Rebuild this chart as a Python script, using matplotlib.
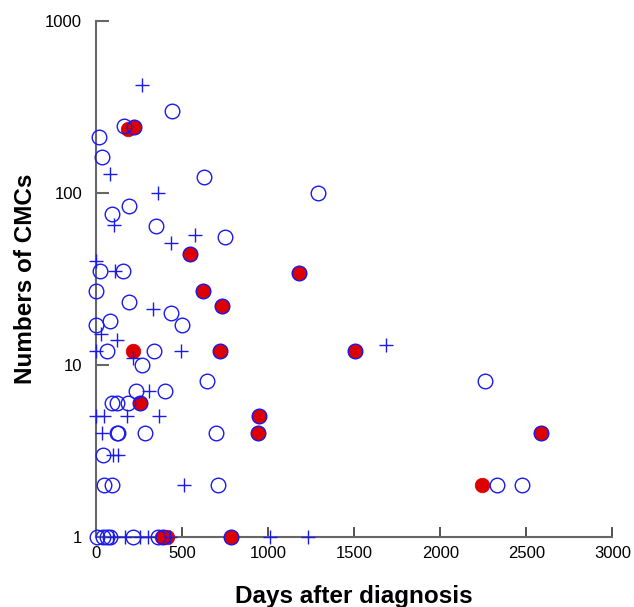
import matplotlib
matplotlib.use("Agg")
import matplotlib.pyplot as plt
from matplotlib.ticker import FixedLocator, FixedFormatter, NullLocator

plt.rcParams['font.family'] = ['Liberation Sans', 'DejaVu Sans']

# open circles (days, number of CMCs)
circ_x = [443, 160, 220, 17, 37, 627, 192, 91, 349, 748, 1290,
          546, 23, 159, 0, 623, 1180, 192, 434, 730, 501, 0, 81,
          62, 339, 720, 1505, 269, 643, 2262, 232, 401,
          91, 120, 188, 256, 949, 120, 125, 285, 697, 943, 2586, 43,
          46, 93, 711, 2332, 2475,
          4, 43, 62, 81, 217, 362, 391, 784]
circ_y = [300, 245, 240, 210, 162, 123, 84, 75, 64, 55, 100,
          44, 35, 35, 27, 27, 34, 23, 20, 22, 17, 17, 18,
          12, 12, 12, 12, 10, 8, 8, 7, 7,
          6, 6, 6, 6, 5, 4, 4, 4, 4, 4, 4, 3,
          2, 2, 2, 2, 2,
          1, 1, 1, 1, 1, 1, 1, 1]

# crosses
plus_x = [270, 81, 358, 103, 575, 434, 0, 110, 333, 30, 124, 0, 217, 496, 1685,
          310, 0, 48, 178, 366, 35, 101, 130, 511,
          100, 168, 255, 304, 430, 1010, 1230]
plus_y = [425, 128, 100, 65, 57, 51, 40, 35, 21, 15, 14, 12, 11, 12, 13,
          7, 5, 5, 5, 5, 4, 3, 3, 2,
          1, 1, 1, 1, 1, 1, 1]

# filled red points
red_x = [188, 220, 546, 623, 730, 720, 1180, 1505, 217, 256, 949, 943, 2586, 2241, 381, 410, 784]
red_y = [235, 240, 44, 27, 22, 12, 34, 12, 12, 6, 5, 4, 4, 2, 1, 1, 1]

fig = plt.figure(figsize=(6.34, 6.07), dpi=100)
ax = fig.add_axes([0.1514, 0.1158, 0.8146, 0.8501])

blue = '#1a1aee'
ax.plot(red_x, red_y, 'o', ms=10.5, mfc='#dd0000', mec='#dd0000', mew=0.5,
        ls='none', clip_on=False, zorder=3)
ax.plot(circ_x, circ_y, 'o', ms=10.5, mfc='none', mec=blue, mew=1.0,
        ls='none', clip_on=False, zorder=4)
ax.plot(plus_x, plus_y, '+', ms=10.5, mec=blue, mew=1.0,
        ls='none', clip_on=False, zorder=4)

ax.set_yscale('log')
ax.set_xlim(0, 3000)
ax.set_ylim(1, 1000)
ax.yaxis.set_major_locator(FixedLocator([1, 10, 100, 1000]))
ax.yaxis.set_major_formatter(FixedFormatter(['1', '10', '100', '1000']))
ax.yaxis.set_minor_locator(NullLocator())
ax.set_xticks([0, 500, 1000, 1500, 2000, 2500, 3000])

for s in ['top', 'right']:
    ax.spines[s].set_visible(False)
for s in ['left', 'bottom']:
    ax.spines[s].set_color('#666666')
    ax.spines[s].set_linewidth(1.5)
ax.tick_params(axis='y', direction='in', length=9, width=1.5, color='#666666',
               labelsize=12, pad=10)
ax.tick_params(axis='x', direction='in', length=7, width=1.2, color='#333333',
               labelsize=12, pad=7)

ax.set_xlabel('Days after diagnosis', fontsize=17.5, fontweight='bold', labelpad=17)
ax.set_ylabel('Numbers of CMCs', fontsize=17.5, fontweight='bold', labelpad=6)

fig.savefig('out.png', dpi=100)
